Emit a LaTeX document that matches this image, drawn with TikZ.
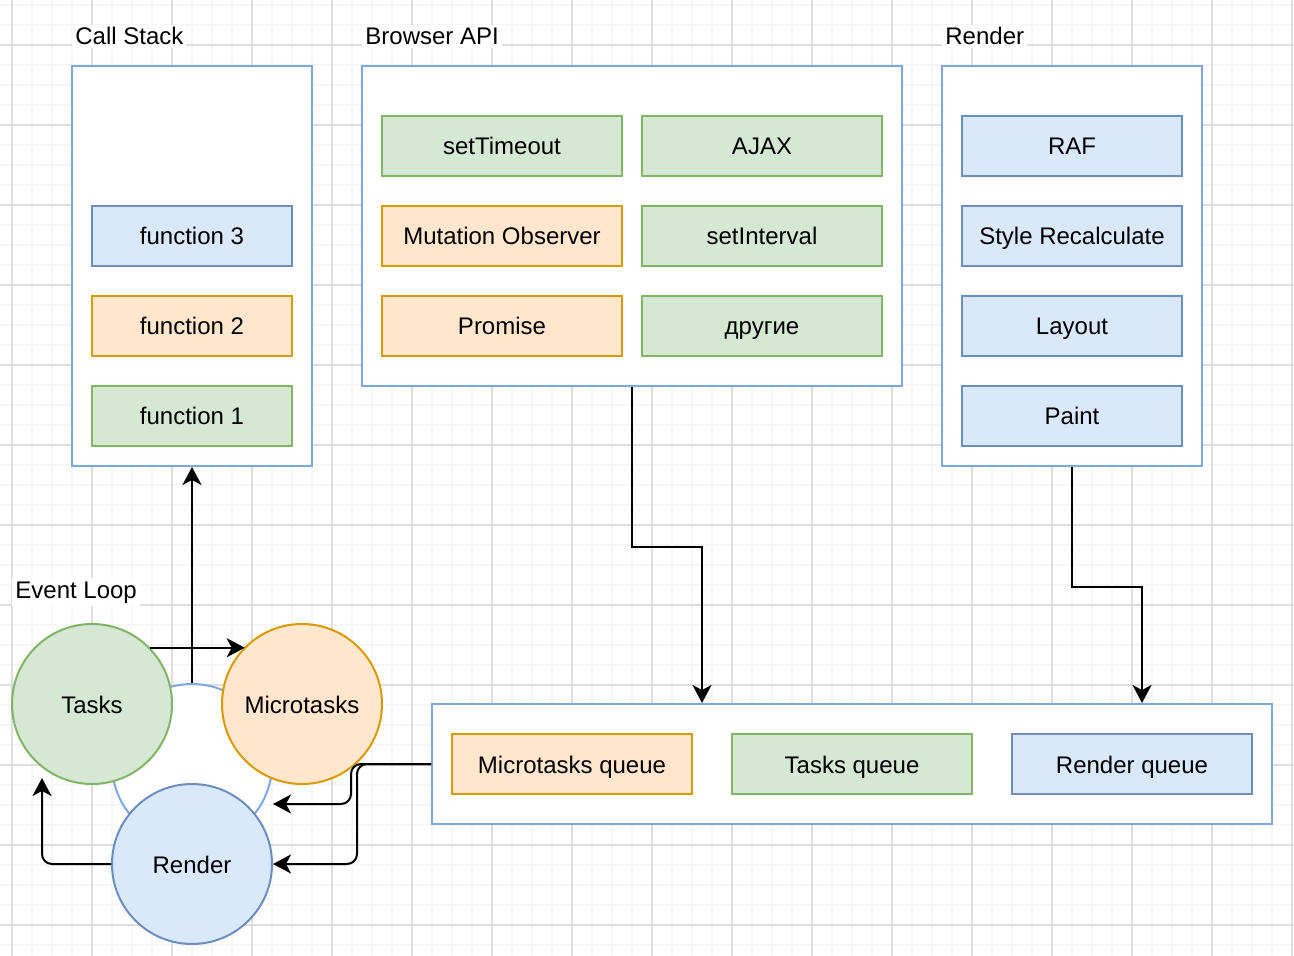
\documentclass[tikz,border=0pt]{standalone}
\usepackage{fontspec}
\setmainfont{Liberation Sans}
\usetikzlibrary{arrows.meta}

\definecolor{greenfill}{HTML}{D5E8D4}
\definecolor{greenline}{HTML}{82B366}
\definecolor{orangefill}{HTML}{FFE6CC}
\definecolor{orangeline}{HTML}{D79B00}
\definecolor{bluefill}{HTML}{DAE8FC}
\definecolor{blueline}{HTML}{6C8EBF}
\definecolor{frameline}{HTML}{7EA6E0}
\definecolor{gridminor}{HTML}{F6F6F6}
\definecolor{gridmajor}{HTML}{DEDEDE}

\tikzset{
  x=0.5pt, y=-0.5pt,
  every node/.style={font=\fontsize{12pt}{14pt}\selectfont, text=black},
  frame/.style={draw=frameline, fill=white, line width=1pt, inner sep=0pt},
  item/.style={line width=1pt, inner sep=0pt, minimum height=30pt,
    text height=9pt, text depth=0pt},
  greenbox/.style={item, draw=greenline, fill=greenfill},
  orangebox/.style={item, draw=orangeline, fill=orangefill},
  bluebox/.style={item, draw=blueline, fill=bluefill},
  fnw/.style={minimum width=100pt},
  apiw/.style={minimum width=120pt},
  renw/.style={minimum width=110pt},
  blob/.style={circle, line width=1pt, minimum size=80pt, inner sep=0pt,
    text height=9pt, text depth=0pt},
  caption/.style={fill=white, inner sep=1.5pt, anchor=base west},
  arr/.style={draw=black, line width=1pt,
    -{Stealth[length=9pt, width=9.5pt, inset=2.5pt]}},
  minorline/.style={draw=gridminor, line width=0.75pt},
  majorline/.style={draw=gridmajor, line width=0.75pt},
}

\begin{document}
\begin{tikzpicture}
\useasboundingbox (0,0) rectangle (1294,956);
\fill[white] (0,0) rectangle (1294,956);

% background grid
\foreach \gx in {12,32,...,1292} \draw[minorline] (\gx,0) -- (\gx,956);
\foreach \gy in {5,25,...,955} \draw[minorline] (0,\gy) -- (1294,\gy);
\foreach \gx in {12,92,...,1292} \draw[majorline] (\gx,0) -- (\gx,956);
\foreach \gy in {45,125,...,925} \draw[majorline] (0,\gy) -- (1294,\gy);

% section captions
\node[caption] (capstack) at (72,45) {Call Stack};
\node[caption] (capapi) at (362,45) {Browser API};
\node[caption] (caprender) at (942,45) {Render};
\node[caption] (caploop) at (12,598) {Event Loop};

% call stack
\node[frame, minimum width=120pt, minimum height=200pt] (stack) at (192,266) {};
\node[bluebox, fnw] (f3) at (192,236) {function 3};
\node[orangebox, fnw] (f2) at (192,326) {function 2};
\node[greenbox, fnw] (f1) at (192,416) {function 1};

% browser api
\node[frame, minimum width=270pt, minimum height=160pt] (api) at (632,226) {};
\node[greenbox, apiw] (settimeout) at (502,146) {setTimeout};
\node[greenbox, apiw] (ajax) at (762,146) {AJAX};
\node[orangebox, apiw] (mutation) at (502,236) {Mutation Observer};
\node[greenbox, apiw] (setinterval) at (762,236) {setInterval};
\node[orangebox, apiw] (promise) at (502,326) {Promise};
\node[greenbox, apiw] (others) at (762,326) {другие};

% render pipeline
\node[frame, minimum width=130pt, minimum height=200pt] (rend) at (1072,266) {};
\node[bluebox, renw] (raf) at (1072,146) {RAF};
\node[bluebox, renw] (style) at (1072,236) {Style Recalculate};
\node[bluebox, renw] (layout) at (1072,326) {Layout};
\node[bluebox, renw] (paint) at (1072,416) {Paint};

% queues
\node[frame, minimum width=420pt, minimum height=60pt] (queue) at (852,764) {};
\node[orangebox, apiw] (mq) at (572,764) {Microtasks queue};
\node[greenbox, apiw] (tq) at (852,764) {Tasks queue};
\node[bluebox, apiw] (rq) at (1132,764) {Render queue};

% event loop
\node[blob, draw=frameline, fill=white] (loop) at (192,764) {};
\node[blob, draw=greenline, fill=greenfill] (tasks) at (92,704) {Tasks};
\node[blob, draw=orangeline, fill=orangefill] (micro) at (302,704) {Microtasks};
\node[blob, draw=blueline, fill=bluefill] (rcirc) at (192,864) {Render};

% connectors
\draw[arr] (loop.north) -- (stack.south);
\draw[arr] (tasks.44.4) -- (micro.135.6 |- tasks.44.4);
\draw[arr] (api.south) -- ++(0,160) -| ([xshift=-75pt]queue.north);
\draw[arr] (rend.south) -- ++(0,120) -| ([xshift=145pt]queue.north);
\draw[arr, rounded corners=5pt] (queue.west) -- ++(-80,0) |- ([yshift=-20pt]loop.east);
\draw[arr, rounded corners=5pt] (queue.west) -- ++(-74,0) |- (rcirc.east);
\draw[arr, rounded corners=5pt] (rcirc.west) -| ([xshift=-25pt,yshift=-37pt]tasks.center);
\end{tikzpicture}
\end{document}
